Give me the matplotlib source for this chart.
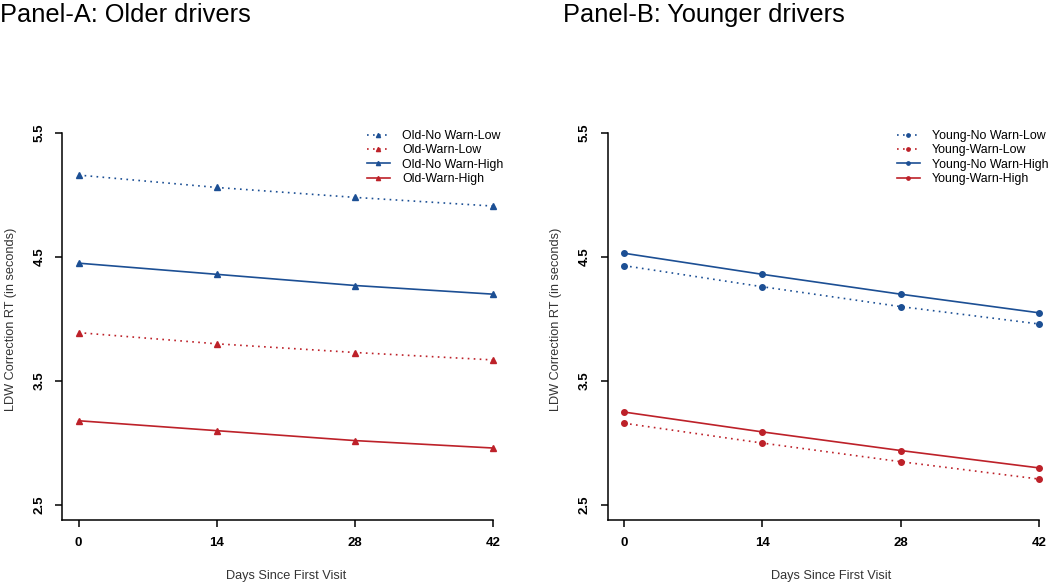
import matplotlib
matplotlib.use("Agg")
import matplotlib.pyplot as plt

plt.rcParams['font.family'] = ['Liberation Sans', 'DejaVu Sans']

days = [0, 14, 28, 42]
y_ticks = [2.5, 3.5, 4.5, 5.5]

old_labels = ["Old-No Warn-Low", "Old-Warn-Low", "Old-No Warn-High", "Old-Warn-High"]
old_nowarn_low = [5.16, 5.06, 4.98, 4.91]
old_warn_low = [3.89, 3.80, 3.73, 3.67]
old_nowarn_high = [4.45, 4.36, 4.27, 4.20]
old_warn_high = [3.18, 3.10, 3.02, 2.96]

young_labels = ["Young-No Warn-Low", "Young-Warn-Low", "Young-No Warn-High", "Young-Warn-High"]
young_nowarn_low = [4.43, 4.26, 4.10, 3.96]
young_warn_low = [3.16, 3.00, 2.85, 2.71]
young_nowarn_high = [4.53, 4.36, 4.20, 4.05]
young_warn_high = [3.25, 3.09, 2.94, 2.80]

blue = "#1c4f94"
red = "#bd2129"
dot = (0, (1, 2.6))

W, H = 1050, 582
fig = plt.figure(figsize=(W / 100, H / 100), dpi=100)


def px_axes(x0, y_top, w, h):
    return fig.add_axes([x0 / W, 1 - (y_top + h) / H, w / W, h / H])


def panel(ax, series, labels, marker, msize, title, title_x, leg_x):
    styles = [(blue, dot), (red, dot), (blue, '-'), (red, '-')]
    for vals, lab, (c, ls) in zip(series, labels, styles):
        ax.plot(days, vals, color=c, linestyle=ls, linewidth=1.2,
                marker=marker, markersize=msize, label=lab)
    ax.set_xlim(-1.68, 43.68)
    ax.set_ylim(2.38, 5.62)
    ax.set_xticks(days)
    ax.set_yticks(y_ticks)
    ax.set_xticklabels([str(d) for d in days], fontweight='bold', fontsize=9.5)
    ax.set_yticklabels([str(v) for v in y_ticks], fontweight='bold', fontsize=9.5,
                       rotation=90, va='center')
    ax.tick_params(axis='both', length=5, width=1.1, color='black', pad=7)
    for s in ['top', 'right']:
        ax.spines[s].set_visible(False)
    for s in ['left', 'bottom']:
        ax.spines[s].set_linewidth(1.1)
    ax.spines['left'].set_bounds(2.38, 5.5)
    ax.spines['bottom'].set_bounds(-1.68, 42)
    ax.set_xlabel("Days Since First Visit", fontsize=9.2, color='#333333', labelpad=15)
    ax.set_ylabel("LDW Correction RT (in seconds)", fontsize=9.2, color='#333333', labelpad=12)
    fig.text(title_x / W, 1 - 15 / H, title, fontsize=18.3, va='center', ha='left')
    ax.legend(loc='upper left', bbox_to_anchor=(leg_x / W, 1 - 130 / H),
              bbox_transform=fig.transFigure, frameon=False, fontsize=8.9,
              handlelength=1.85, handletextpad=1.0, labelspacing=0.19,
              markerscale=0.6, borderpad=0, borderaxespad=0)


ax1 = px_axes(62, 118, 448, 402)
panel(ax1, [old_nowarn_low, old_warn_low, old_nowarn_high, old_warn_high],
      old_labels, '^', 5, "Panel-A: Older drivers", 0, 367)

ax2 = px_axes(607.5, 118, 448, 402)
panel(ax2, [young_nowarn_low, young_warn_low, young_nowarn_high, young_warn_high],
      young_labels, 'o', 4, "Panel-B: Younger drivers", 563, 897)

fig.savefig("out.png", dpi=100)
